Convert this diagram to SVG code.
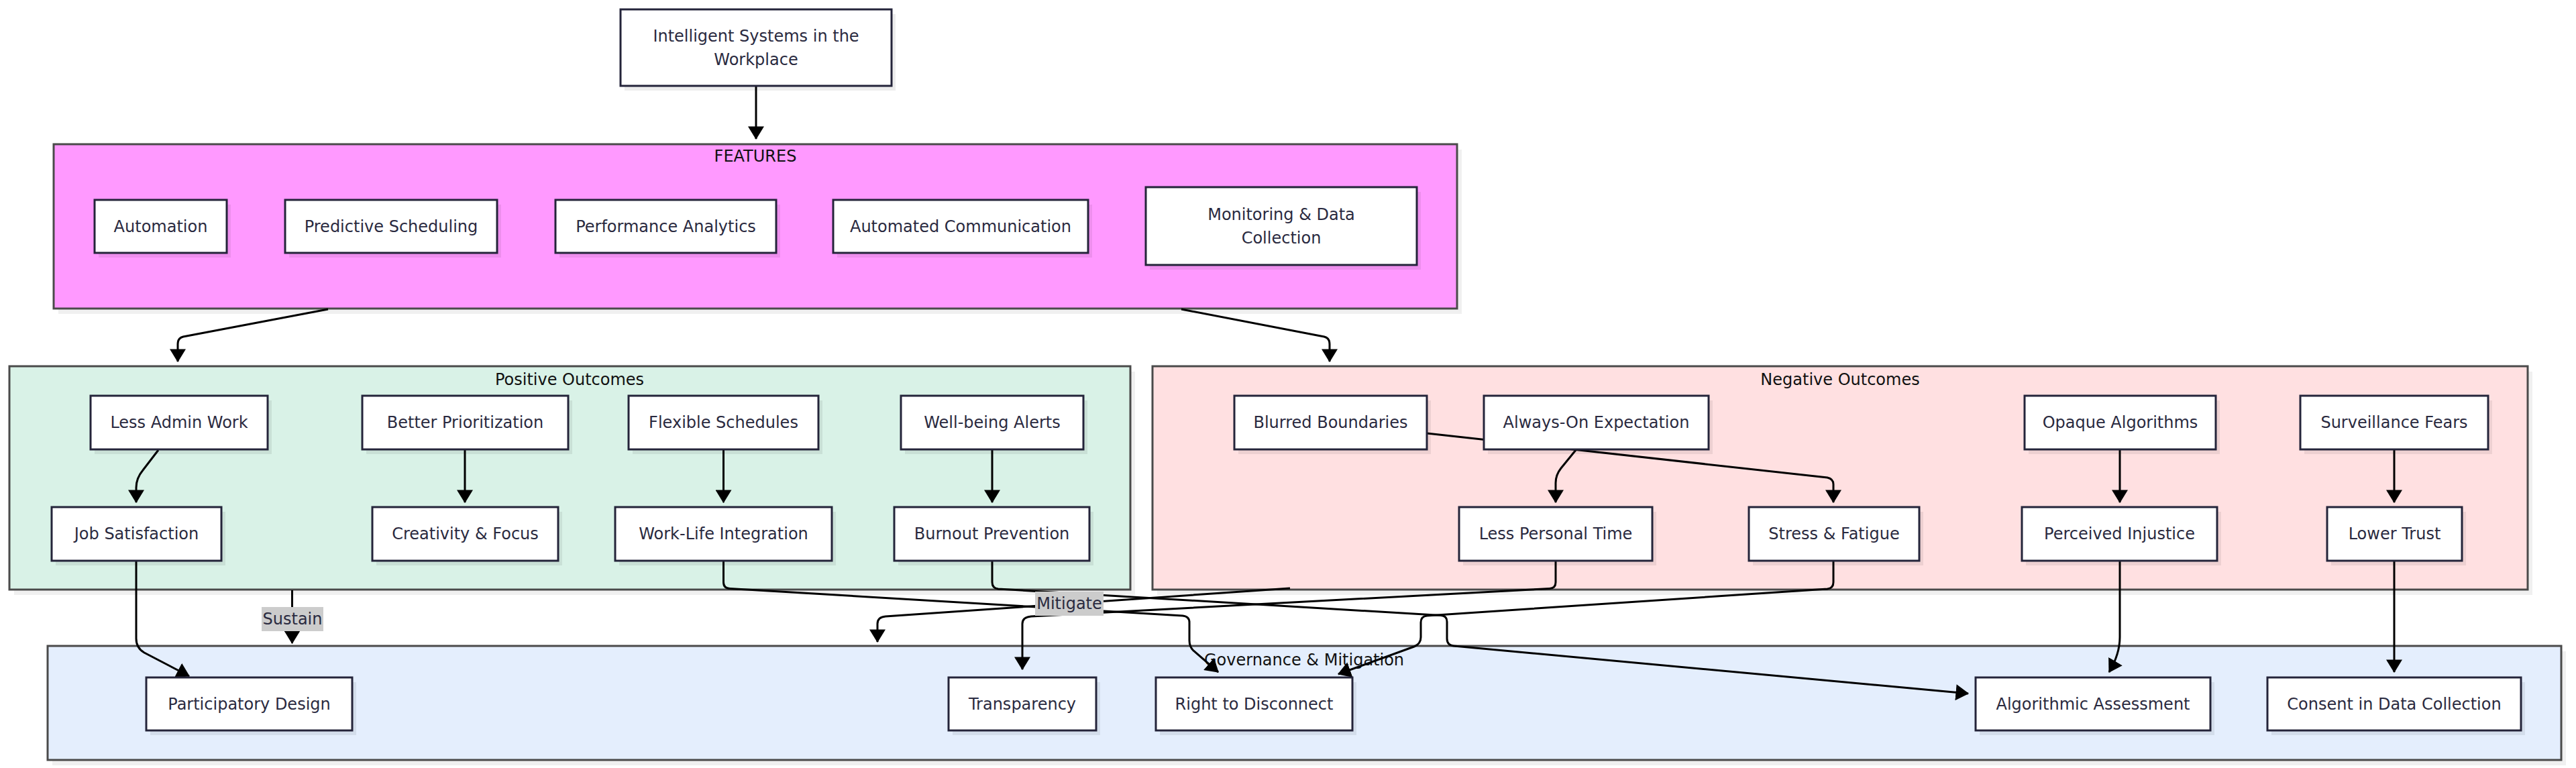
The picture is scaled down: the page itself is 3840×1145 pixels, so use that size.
<svg xmlns="http://www.w3.org/2000/svg" width="3840" height="1145" viewBox="0 0 3840 1145">
<style>
.bg{fill:#ffffff}
.csh{fill:#000;fill-opacity:0.06}
.cbox{stroke:#4a4a4a;stroke-width:3}
.ctext{font-family:"DejaVu Sans",Verdana,sans-serif;font-size:24px;fill:#111111;text-anchor:middle;dominant-baseline:central}
.nsh{fill:#000;fill-opacity:0.07}
.box{fill:#ffffff;stroke:#24243a;stroke-width:3}
.t{font-family:"DejaVu Sans",Verdana,sans-serif;font-size:24px;fill:#2a2a40;text-anchor:middle;dominant-baseline:central}
.e{fill:none;stroke:#000;stroke-width:3;marker-end:url(#arr)}
.lbg{fill:#cccccc}
.lt{font-family:"DejaVu Sans",Verdana,sans-serif;font-size:24px;fill:#2a2a40;text-anchor:middle;dominant-baseline:central}
</style>
<defs>
<marker id="arr" markerUnits="userSpaceOnUse" markerWidth="20" markerHeight="24" viewBox="0 0 18 22" refX="17" refY="11" orient="auto">
<path d="M0,0 L18,11 L0,22 z" fill="#000"/>
</marker>
</defs>
<rect class="bg" x="0" y="0" width="3840" height="1145"/>

<g id="clusters">
<g id="cluster-features">
<rect class="csh" x="87" y="223" width="2092" height="245"/>
<rect class="cbox" x="80" y="215" width="2092" height="245" fill="#ff99ff"/>
<text class="ctext" x="1126" y="233">FEATURES</text>
</g>
<g id="cluster-positive">
<rect class="csh" x="21" y="554" width="1671" height="333"/>
<rect class="cbox" x="14" y="546" width="1671" height="333" fill="#d9f2e7"/>
<text class="ctext" x="849" y="566">Positive Outcomes</text>
</g>
<g id="cluster-negative">
<rect class="csh" x="1725" y="554" width="2050" height="333"/>
<rect class="cbox" x="1718" y="546" width="2050" height="333" fill="#ffe0e1"/>
<text class="ctext" x="2743" y="566">Negative Outcomes</text>
</g>
<g id="cluster-governance">
<rect class="csh" x="78" y="971" width="3747" height="170"/>
<rect class="cbox" x="71" y="963" width="3747" height="170" fill="#e4eefd"/>
<text class="ctext" x="1944" y="984">Governance &amp; Mitigation</text>
</g>
</g>

<g id="connectors">
<path class="e" d="M1127,129 L1127,207"/>
<path class="e" d="M489,461 L273,502 Q265,504 265,513 L265,539"/>
<path class="e" d="M1761,461 L1974,502 Q1982,504 1982,513 L1982,539"/>
<path class="e" d="M236,671 L213,701 Q203,713 203,727 L203,749"/>
<path class="e" d="M693,671 L693,749"/>
<path class="e" d="M1078.5,671 L1078.5,749"/>
<path class="e" d="M1479,671 L1479,749"/>
<path class="e" d="M203,837 L203,952 Q203,966 215,973 L282,1008"/>
<path class="e" d="M435.5,880 L435.5,959"/>
<path class="e" d="M2127,646 L2724,712 Q2733,714 2733,722 L2733,749"/>
<path class="e" d="M2349,671 L2327,698 Q2319,708 2319,720 L2319,749"/>
<path class="e" d="M3160,671 L3160,749"/>
<path class="e" d="M3569,671 L3569,749"/>
<path class="e" d="M3160,837 L3160,950 Q3160,975 3144,1002"/>
<path class="e" d="M3569,837 L3569,1002"/>
<path class="e" d="M1078.5,837 L1078.5,868 Q1078.5,877 1088,877.5 L1763,918 Q1773,919 1773,928 L1773,955 Q1773,964 1779,970 L1816,1002"/>
<path class="e" d="M1479,837 L1479,868 Q1479,877 1488,878 L2148,917.5 Q2157,918 2157,927 L2157,952 Q2157,962 2167,963 L2934,1034"/>
<path class="e" d="M2733,837 L2733,868 Q2733,877 2724,878 L2127,918 Q2118,919 2118,928 L2118,950 Q2118,960 2108,964 L1995,1005"/>
<path class="e" d="M2319,837 L2319,868 Q2319,877 2310,877.5 L1537,919 Q1524,920 1524,930 L1524,998"/>
<path class="e" d="M1923,877 L1320,919 Q1308,920 1308,930 L1308,957"/>
<g id="label-sustain">
<rect class="lbg" x="390" y="905" width="92" height="36"/>
<text class="lt" x="436" y="923">Sustain</text>
</g>
<g id="label-mitigate">
<rect class="lbg" x="1543" y="882" width="102" height="36"/>
<text class="lt" x="1594" y="900">Mitigate</text>
</g>
</g>

<g id="n-top"><rect class="nsh" x="931" y="21" width="404" height="114"/><rect class="box" x="925" y="14" width="404" height="114"/><text class="t" x="1127" y="53.5">Intelligent Systems in the</text><text class="t" x="1127" y="88.5">Workplace</text></g>

<g id="n-automation"><rect class="nsh" x="147" y="305" width="197" height="79"/><rect class="box" x="141" y="298" width="197" height="79"/><text class="t" x="239.5" y="337.5">Automation</text></g>
<g id="n-predictive"><rect class="nsh" x="431" y="305" width="316" height="79"/><rect class="box" x="425" y="298" width="316" height="79"/><text class="t" x="583" y="337.5">Predictive Scheduling</text></g>
<g id="n-performance"><rect class="nsh" x="834" y="305" width="329" height="79"/><rect class="box" x="828" y="298" width="329" height="79"/><text class="t" x="992.5" y="337.5">Performance Analytics</text></g>
<g id="n-communication"><rect class="nsh" x="1248" y="305" width="380" height="79"/><rect class="box" x="1242" y="298" width="380" height="79"/><text class="t" x="1432" y="337.5">Automated Communication</text></g>
<g id="n-monitoring"><rect class="nsh" x="1714" y="286" width="404" height="116"/><rect class="box" x="1708" y="279" width="404" height="116"/><text class="t" x="1910" y="319.5">Monitoring &amp; Data</text><text class="t" x="1910" y="354.5">Collection</text></g>

<g id="n-lessadmin"><rect class="nsh" x="141" y="597" width="264" height="80"/><rect class="box" x="135" y="590" width="264" height="80"/><text class="t" x="267" y="630">Less Admin Work</text></g>
<g id="n-prioritization"><rect class="nsh" x="546" y="597" width="307" height="80"/><rect class="box" x="540" y="590" width="307" height="80"/><text class="t" x="693.5" y="630">Better Prioritization</text></g>
<g id="n-flexible"><rect class="nsh" x="943" y="597" width="283" height="80"/><rect class="box" x="937" y="590" width="283" height="80"/><text class="t" x="1078.5" y="630">Flexible Schedules</text></g>
<g id="n-wellbeing"><rect class="nsh" x="1349" y="597" width="272" height="80"/><rect class="box" x="1343" y="590" width="272" height="80"/><text class="t" x="1479" y="630">Well-being Alerts</text></g>
<g id="n-jobsat"><rect class="nsh" x="83" y="763" width="253" height="80"/><rect class="box" x="77" y="756" width="253" height="80"/><text class="t" x="203.5" y="796">Job Satisfaction</text></g>
<g id="n-creativity"><rect class="nsh" x="561" y="763" width="277" height="80"/><rect class="box" x="555" y="756" width="277" height="80"/><text class="t" x="693.5" y="796">Creativity &amp; Focus</text></g>
<g id="n-worklife"><rect class="nsh" x="923" y="763" width="323" height="80"/><rect class="box" x="917" y="756" width="323" height="80"/><text class="t" x="1078.5" y="796">Work-Life Integration</text></g>
<g id="n-burnout"><rect class="nsh" x="1339" y="763" width="291" height="80"/><rect class="box" x="1333" y="756" width="291" height="80"/><text class="t" x="1478.5" y="796">Burnout Prevention</text></g>

<g id="n-blurred"><rect class="nsh" x="1846" y="597" width="287" height="80"/><rect class="box" x="1840" y="590" width="287" height="80"/><text class="t" x="1983.5" y="630">Blurred Boundaries</text></g>
<g id="n-alwayson"><rect class="nsh" x="2218" y="597" width="335" height="80"/><rect class="box" x="2212" y="590" width="335" height="80"/><text class="t" x="2379.5" y="630">Always-On Expectation</text></g>
<g id="n-opaque"><rect class="nsh" x="3024" y="597" width="285" height="80"/><rect class="box" x="3018" y="590" width="285" height="80"/><text class="t" x="3160.5" y="630">Opaque Algorithms</text></g>
<g id="n-surveillance"><rect class="nsh" x="3435" y="597" width="280" height="80"/><rect class="box" x="3429" y="590" width="280" height="80"/><text class="t" x="3569" y="630">Surveillance Fears</text></g>
<g id="n-personaltime"><rect class="nsh" x="2181" y="763" width="288" height="80"/><rect class="box" x="2175" y="756" width="288" height="80"/><text class="t" x="2319" y="796">Less Personal Time</text></g>
<g id="n-stress"><rect class="nsh" x="2613" y="763" width="254" height="80"/><rect class="box" x="2607" y="756" width="254" height="80"/><text class="t" x="2734" y="796">Stress &amp; Fatigue</text></g>
<g id="n-injustice"><rect class="nsh" x="3020" y="763" width="291" height="80"/><rect class="box" x="3014" y="756" width="291" height="80"/><text class="t" x="3159.5" y="796">Perceived Injustice</text></g>
<g id="n-lowertrust"><rect class="nsh" x="3475" y="763" width="201" height="80"/><rect class="box" x="3469" y="756" width="201" height="80"/><text class="t" x="3569.5" y="796">Lower Trust</text></g>

<g id="n-participatory"><rect class="nsh" x="224" y="1017" width="307" height="79"/><rect class="box" x="218" y="1010" width="307" height="79"/><text class="t" x="371.5" y="1049.5">Participatory Design</text></g>
<g id="n-transparency"><rect class="nsh" x="1420" y="1017" width="220" height="79"/><rect class="box" x="1414" y="1010" width="220" height="79"/><text class="t" x="1524" y="1049.5">Transparency</text></g>
<g id="n-disconnect"><rect class="nsh" x="1729" y="1017" width="293" height="79"/><rect class="box" x="1723" y="1010" width="293" height="79"/><text class="t" x="1869.5" y="1049.5">Right to Disconnect</text></g>
<g id="n-algassess"><rect class="nsh" x="2951" y="1017" width="350" height="79"/><rect class="box" x="2945" y="1010" width="350" height="79"/><text class="t" x="3120" y="1049.5">Algorithmic Assessment</text></g>
<g id="n-consent"><rect class="nsh" x="3386" y="1017" width="378" height="79"/><rect class="box" x="3380" y="1010" width="378" height="79"/><text class="t" x="3569" y="1049.5">Consent in Data Collection</text></g>
</svg>
